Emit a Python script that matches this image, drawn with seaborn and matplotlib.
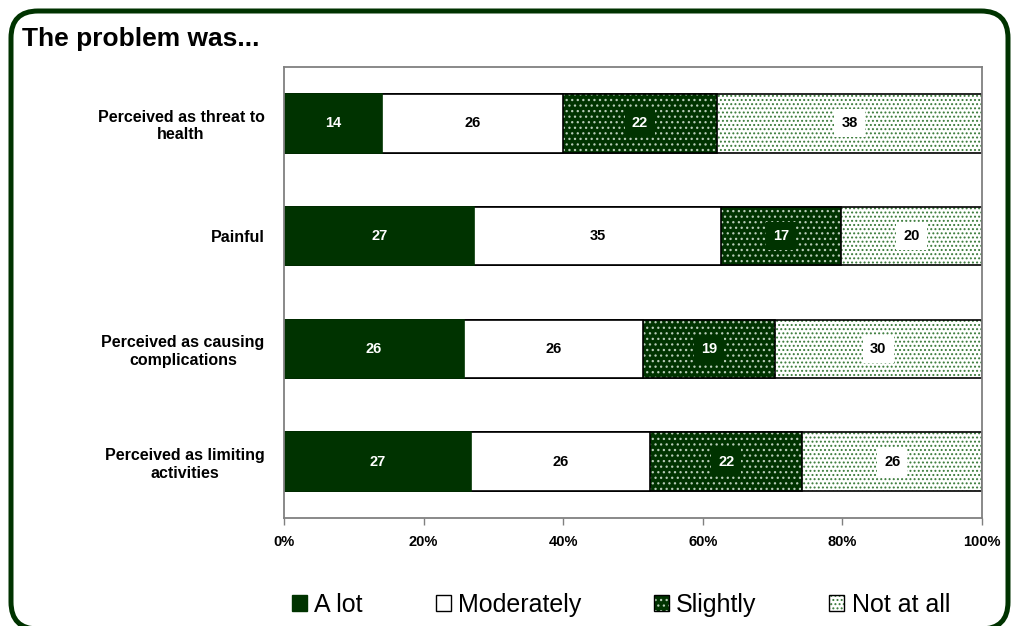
import matplotlib
matplotlib.use("Agg")
import pandas as pd
import matplotlib.pyplot as plt
import matplotlib.patches as mpatches
from matplotlib.colors import to_rgba
import seaborn as sns

# Data
categories = ["Perceived as threat to\nhealth", "Painful",
              "Perceived as causing\ncomplications", "Perceived as limiting\nactivities"]
series_names = ["A lot", "Moderately", "Slightly", "Not at all"]
a_lot = [14, 27, 26, 27]
moderately = [26, 35, 26, 26]
slightly = [22, 17, 19, 22]
not_at_all = [38, 20, 30, 26]
x_ticks = [0, 20, 40, 60, 80, 100]

green = "#003300"
# face, hatch, hatch colour, label colour, label box
styles = {
    "A lot": (green, None, green, "white", None),
    "Moderately": ("white", None, "white", "black", None),
    "Slightly": (green, "...", "#b8ccb8", "white", green),
    "Not at all": ("white", "....", "#3a7a3a", "black", "white"),
}

df = pd.DataFrame({"A lot": a_lot, "Moderately": moderately,
                   "Slightly": slightly, "Not at all": not_at_all}, index=categories)
pct = df.div(df.sum(axis=1), axis=0) * 100
cum = pct.cumsum(axis=1)

sns.set_theme(style="white")
plt.rcParams['font.family'] = ['Liberation Sans', 'DejaVu Sans']
plt.rcParams['hatch.linewidth'] = 0.9
plt.rcParams['text.color'] = 'black'
plt.rcParams['xtick.labelcolor'] = 'black'
plt.rcParams['ytick.labelcolor'] = 'black'

fig = plt.figure(figsize=(10.11, 6.26), dpi=100)
ax = fig.add_axes([284 / 1011, 1 - 518 / 626, 698 / 1011, 451 / 626])

# stacked bars: draw cumulative totals from the last series backwards
for name in reversed(series_names):
    face, hatch, hcol, _, _ = styles[name]
    n0 = len(ax.patches)
    sns.barplot(x=cum[name].values, y=categories, orient="h", color=face,
                edgecolor="black", linewidth=1.2, hatch=hatch, width=0.52,
                saturation=1, errorbar=None, ax=ax)
    for p in ax.patches[n0:]:
        if name == "A lot":
            p.set_edgecolor(green)
        p._hatch_color = to_rgba(hcol)

# value labels
for name in series_names:
    _, _, _, tcol, box = styles[name]
    for i, cat in enumerate(categories):
        xc = cum.loc[cat, name] - pct.loc[cat, name] / 2
        bbox = dict(facecolor=box, edgecolor="none", pad=5) if box else None
        ax.text(xc, i, str(df.loc[cat, name]), ha="center", va="center",
                color=tcol, fontsize=10.5, fontweight="bold", bbox=bbox)

ax.set_xlim(0, 100)
ax.set_ylim(3.5, -0.5)
ax.set_xticks(x_ticks)
ax.set_xticklabels([f"{t}%" for t in x_ticks], fontsize=10.5, fontweight="bold")
ax.set_xlabel("")
ax.set_ylabel("")
for tl in ax.get_yticklabels():
    tl.set_multialignment("center")
    tl.set_fontsize(11.5)
    tl.set_fontweight("bold")
ax.tick_params(axis="x", direction="out", length=5, width=1, color="#808080", pad=7, bottom=True)
ax.tick_params(axis="y", length=0, pad=14)
for s in ax.spines.values():
    s.set_color("#808080")
    s.set_linewidth(1.3)

fig.text(22 / 1011, 1 - 46 / 626, "The problem was...", fontsize=19,
         fontweight="bold", va="baseline", ha="left")

# legend
handles = []
for name in series_names:
    face, hatch, hcol, _, _ = styles[name]
    edge = green if name == "A lot" else "black"
    handles.append(mpatches.Patch(facecolor=face, edgecolor=edge, hatch=hatch, label=name))
leg = fig.legend(handles=handles, loc="center", bbox_to_anchor=(621 / 1011, 1 - 605 / 626),
                 ncol=4, frameon=False, fontsize=18, handlelength=0.6, handleheight=0.6,
                 handletextpad=0.3, columnspacing=2.9)
for h, name in zip(leg.legend_handles, series_names):
    h._hatch_color = to_rgba(styles[name][2])

# rounded green frame
frame = mpatches.FancyBboxPatch((0.11, -0.03), 9.97, 6.18,
                                boxstyle="round,pad=0,rounding_size=0.27",
                                transform=fig.dpi_scale_trans, fill=False,
                                edgecolor=green, linewidth=3.6, clip_on=False)
fig.add_artist(frame)

fig.savefig("out.png", dpi=100)
